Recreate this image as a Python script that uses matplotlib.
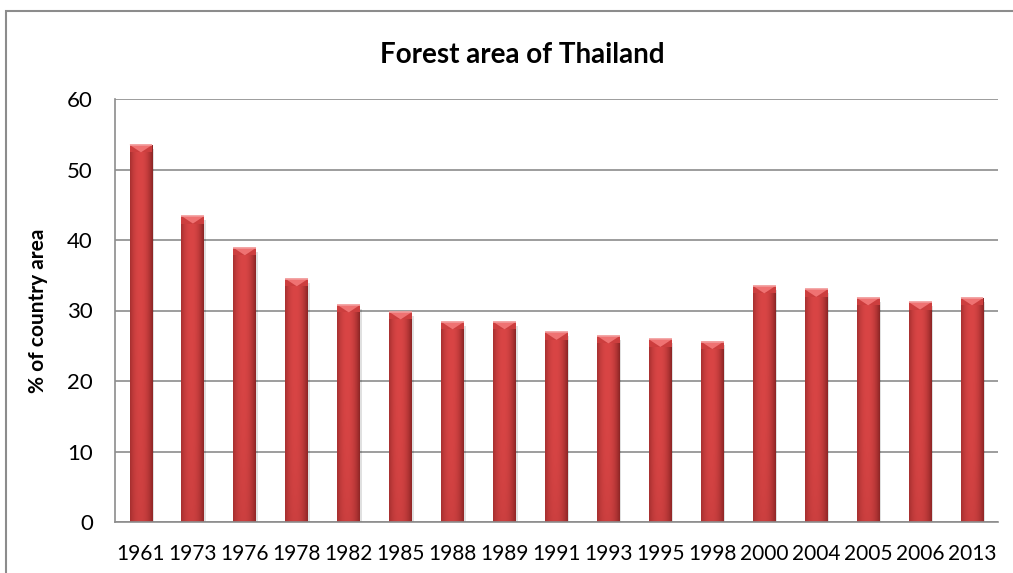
import numpy as np
import matplotlib
matplotlib.use("Agg")
import matplotlib.pyplot as plt
from matplotlib.patches import Rectangle, Polygon
from matplotlib.colors import to_rgb

years = ["1961", "1973", "1976", "1978", "1982", "1985", "1988", "1989", "1991",
         "1993", "1995", "1998", "2000", "2004", "2005", "2006", "2013"]
forest_pct = [53.5, 43.4, 38.9, 34.5, 30.8, 29.8, 28.4, 28.4, 26.9,
              26.4, 25.9, 25.6, 33.5, 33.0, 31.8, 31.2, 31.8]

plt.rcParams['font.family'] = ['Lato', 'DejaVu Sans']

fig = plt.figure(figsize=(10.13, 5.73), dpi=100)
ax = fig.add_axes([115 / 1013, 1 - 522 / 573, 883 / 1013, 423 / 573])

# chart border
fig.patches.append(Rectangle((6 / 1013, -0.05), 1.1, 1 - 11 / 573 + 0.05,
                             transform=fig.transFigure, fill=False,
                             edgecolor="#8c8c8c", lw=1.5))

x = np.arange(len(years))
width = 0.44
bars = ax.bar(x, forest_pct, width=width, color="#cc3b3b", zorder=2)

ymax = 60
px_per_unit = 423 / ymax
bevel = 7.5 / px_per_unit

# cylindrical shading across each bar, darker toward the base
dark = np.array(to_rgb("#8a2424"))
mid = np.array(to_rgb("#d94545"))
base = np.array(to_rgb("#a32f2f"))
u = np.linspace(0, 1, 60)
prof = np.clip(1 - np.abs((u - 0.45) / 0.55) ** 2.2, 0, 1)
v = np.linspace(0, 1, 120)[:, None]
for b in bars:
    x0 = b.get_x()
    x1 = x0 + b.get_width()
    h = b.get_height()
    row = dark[None, :] + (mid - dark)[None, :] * prof[:, None]
    img = row[None, :, :] * (1 - 0.25 * (1 - v[:, :, None]) ** 3) + \
        base[None, None, :] * 0.25 * (1 - v[:, :, None]) ** 3
    img = np.clip(img, 0, 1)
    # soft shadow on the right and below
    ax.add_patch(Rectangle((x1, 0), 0.03, h - bevel * 0.5, color="#000000",
                           alpha=0.12, lw=0, zorder=1.5))
    im = ax.imshow(img, extent=(x0, x1, 0, h), origin="lower",
                   aspect="auto", zorder=2.5, interpolation="bilinear")
    im.set_clip_path(b)
    xc = (x0 + x1) / 2
    ax.add_patch(Polygon([(x0, h), (x1, h), (x1, h - bevel), (x0, h - bevel)],
                         closed=True, facecolor="#cc3e3e", lw=0, zorder=3))
    ax.add_patch(Polygon([(x0, h), (x1, h), (xc, h - bevel)], closed=True,
                         facecolor="#ef7272", lw=0, zorder=3.2))
    ax.plot([x0, x1], [h, h], color="#f29a9a", lw=1.2, zorder=3.4,
            solid_capstyle="butt")

ax.set_xlim(-0.5, len(years) - 0.5)
ax.set_ylim(0, ymax)
ax.set_yticks(range(0, 61, 10))
ax.set_xticks(x)
ax.set_xticklabels(years)
ax.tick_params(axis="both", length=0, labelsize=15, colors="#000000")
ax.tick_params(axis="y", labelsize=16, pad=16)
ax.tick_params(axis="x", pad=16)
ax.yaxis.grid(True, color="#8c8c8c", lw=1.2, zorder=0)
ax.set_axisbelow(True)
for s in ["top", "right"]:
    ax.spines[s].set_visible(False)
for s in ["left", "bottom"]:
    ax.spines[s].set_color("#8c8c8c")
    ax.spines[s].set_linewidth(1.2)

ax.set_ylabel("% of country area", fontsize=15, fontweight="bold")
ax.yaxis.set_label_coords(-67 / 883, 0.5)
fig.text(522 / 1013, 1 - 55 / 573, "Forest area of Thailand", fontsize=20,
         fontweight="bold", ha="center", va="center")

fig.savefig("out.png", dpi=100)
